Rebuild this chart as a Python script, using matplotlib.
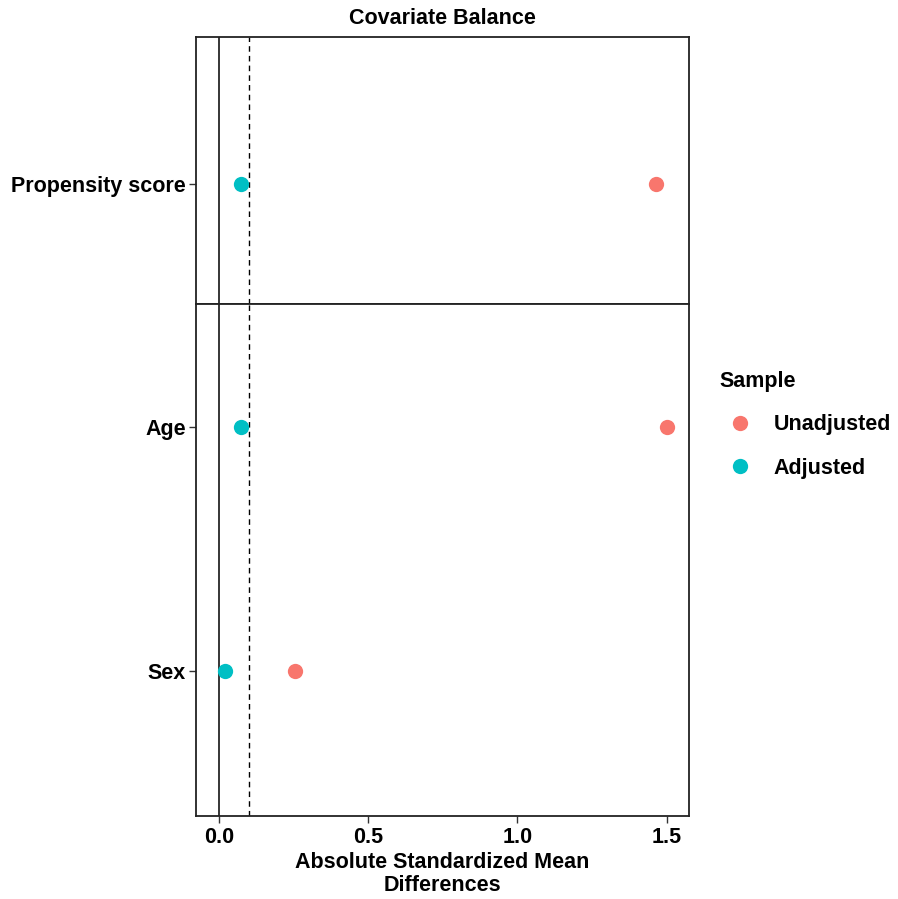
import matplotlib
matplotlib.use("Agg")
import matplotlib.pyplot as plt
from matplotlib.lines import Line2D

plt.rcParams['font.family'] = ['Liberation Sans', 'DejaVu Sans']
plt.rcParams['font.weight'] = 'bold'

# data
top_vars = ["Propensity score"]
top_unadj = [1.464]
top_adj = [0.072]

bot_vars = ["Sex", "Age"]
bot_unadj = [0.254, 1.501]
bot_adj = [0.019, 0.072]

threshold = 0.1
x_ticks = [0.0, 0.5, 1.0, 1.5]
x_labels = ["0.0", "0.5", "1.0", "1.5"]

col_unadj = "#F8766D"
col_adj = "#00BFC4"

W, H = 898, 899
fig = plt.figure(figsize=(W / 100, H / 100), dpi=100)

left = 195.5 / W
width = (689 - 195.5) / W
ax_top = fig.add_axes([left, 1 - 304 / H, width, (304 - 37) / H])
ax_bot = fig.add_axes([left, 1 - 816 / H, width, (816 - 304) / H])

fs = 15.5
msize = 11

for ax, vars_, unadj, adj in [(ax_top, top_vars, top_unadj, top_adj),
                              (ax_bot, bot_vars, bot_unadj, bot_adj)]:
    ypos = list(range(1, len(vars_) + 1))
    ax.axvline(0, color="black", lw=1.1, zorder=1)
    ax.axvline(threshold, color="black", lw=1.0, ls=(0, (4, 3)), zorder=1)
    ax.plot(unadj, ypos, "o", color=col_unadj, ms=msize, mew=0, zorder=3)
    ax.plot(adj, ypos, "o", color=col_adj, ms=msize, mew=0, zorder=3)
    ax.set_yticks(ypos)
    ax.set_yticklabels(vars_, fontsize=fs, fontweight="bold")
    ax.set_xlim(-0.079, 1.575)
    for s in ax.spines.values():
        s.set_linewidth(1.3)
        s.set_color("#222222")
    ax.tick_params(axis="y", length=5, width=1.0, pad=2, color="#333333")

ax_top.set_ylim(1 - 0.49, 1 + 0.602)
ax_bot.set_ylim(1 - 0.594, 2 + 0.504)

ax_top.set_xticks([])
ax_bot.set_xticks(x_ticks)
ax_bot.set_xticklabels(x_labels, fontsize=fs, fontweight="bold")
ax_bot.tick_params(axis="x", length=5, width=1.0, pad=3, color="#333333")
ax_bot.set_xlabel("Absolute Standardized Mean\nDifferences", fontsize=fs,
                  fontweight="bold", labelpad=3, linespacing=1.12)

ax_top.set_title("Covariate Balance", fontsize=fs, fontweight="bold", pad=9)

handles = [Line2D([], [], marker="o", ls="", color=col_unadj, ms=msize, mew=0),
           Line2D([], [], marker="o", ls="", color=col_adj, ms=msize, mew=0)]
leg = fig.legend(handles, ["Unadjusted", "Adjusted"], title="Sample",
                 loc="upper left", bbox_to_anchor=(711 / W, 1 - 362 / H),
                 frameon=False, prop={"size": fs, "weight": "bold"},
                 title_fontproperties={"size": fs, "weight": "bold"},
                 alignment="left", labelspacing=1.05, handletextpad=0.67,
                 handlelength=1.85, borderaxespad=0)

fig.savefig("out.png", dpi=100)
